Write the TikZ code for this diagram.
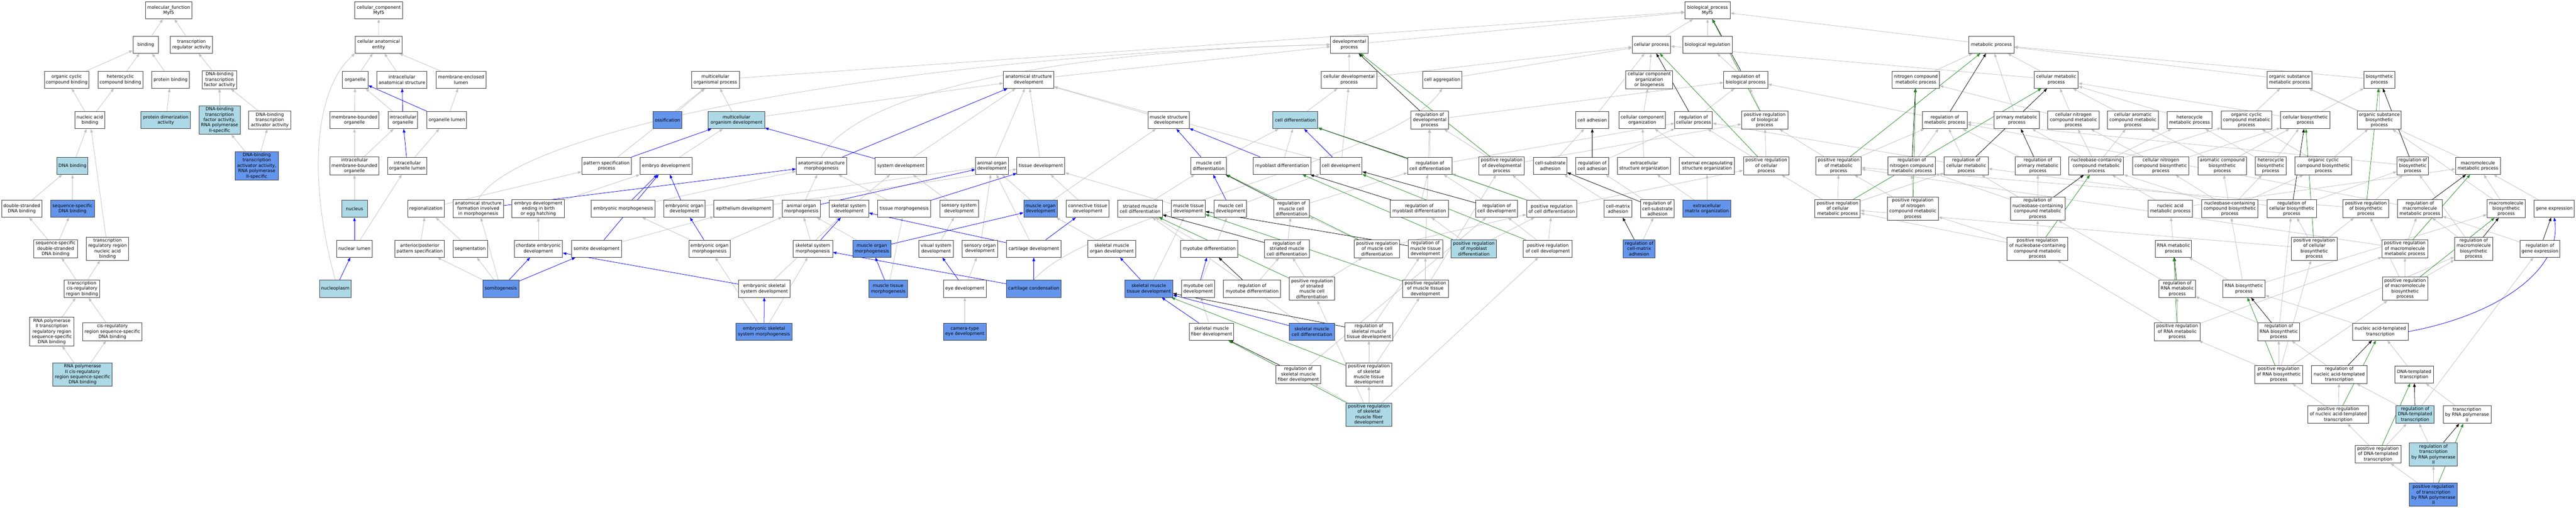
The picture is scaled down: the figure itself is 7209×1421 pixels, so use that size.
\documentclass[tikz,border=0pt]{standalone}
\usepackage{fontspec}
\setmainfont{DejaVu Sans}
\usetikzlibrary{arrows.meta}
\pgfdeclarelayer{back}
\pgfdeclarelayer{bg}
\pgfsetlayers{back,bg,main}
\definecolor{lblue}{RGB}{173,216,230}
\definecolor{cblue}{RGB}{100,149,237}
\definecolor{egray}{RGB}{192,192,192}
\definecolor{fgreen}{RGB}{34,139,34}
\definecolor{bord}{RGB}{60,60,60}
\newcommand\gn[7]{\node[#6,minimum width={(#3-#2)*1pt},minimum height={#5*1pt}] (#1) at ({(#2+#3)/2},-#4) {#7};}
\begin{document}
\begin{tikzpicture}[x=1pt,y=1pt,
 box/.style={draw=bord,line width=1.4pt,rectangle,align=center,inner xsep=1.5pt,inner ysep=1pt,text=black,font=\fontsize{12.5}{15}\selectfont},
 nw/.style={box,fill=white}, nlb/.style={box,fill=lblue}, ncb/.style={box,fill=cblue},
 edgeline/.style={line width=1.1pt,-{Triangle[length=10pt,width=7.5pt]}},
 eg/.style={edgeline,draw=egray}, eb/.style={edgeline,draw=blue}, ek/.style={edgeline,draw=black}, egr/.style={edgeline,draw=fgreen}]
\useasboundingbox (0,0) rectangle (7209,-1421);
\begin{pgfonlayer}{back}\fill[white] (0,0) rectangle (7209,-1421);\end{pgfonlayer}
% Row A
\gn{mf}{407}{537}{29}{48}{nw}{molecular\_function\\Myf5}
\gn{cc}{993}{1127}{29}{48}{nw}{cellular\_component\\Myf5}
\gn{bp}{4715}{4842}{29}{48}{nw}{biological\_process\\Myf5}
% Row B
\gn{binding}{372}{444}{125}{48}{nw}{binding}
\gn{tra}{477}{595}{125}{48}{nw}{transcription\\regulator activity}
\gn{cae}{994}{1125}{125}{48}{nw}{cellular anatomical\\entity}
\gn{devp}{3724}{3828}{125}{48}{nw}{developmental\\process}
\gn{cp}{4568}{4675}{125}{48}{nw}{cellular process}
\gn{breg}{4709}{4848}{125}{48}{nw}{biological regulation}
\gn{mp}{5510}{5636}{125}{48}{nw}{metabolic process}
% Row C
\gn{occb}{124}{249}{223}{48}{nw}{organic cyclic\\compound binding}
\gn{hcb}{274}{400}{223}{48}{nw}{heterocyclic\\compound binding}
\gn{pb}{425}{530}{223}{48}{nw}{protein binding}
\gn{dbtf}{566}{663}{223}{50}{nw}{DNA-binding\\transcription\\factor activity}
\gn{org}{958}{1030}{223}{48}{nw}{organelle}
\gn{ias}{1055}{1195}{223}{48}{nw}{intracellular\\anatomical structure}
\gn{mel}{1221}{1360}{223}{48}{nw}{membrane-enclosed\\lumen}
\gn{mop}{1935}{2069}{223}{48}{nw}{multicellular\\organismal process}
\gn{asd}{2808}{2949}{223}{48}{nw}{anatomical structure\\development}
\gn{cdp}{3698}{3853}{223}{48}{nw}{cellular developmental\\process}
\gn{cagg}{3981}{4091}{223}{48}{nw}{cell aggregation}
\gn{ccob}{4550}{4681}{223}{50}{nw}{cellular component\\organization\\or biogenesis}
\gn{rbp}{4824}{4947}{223}{48}{nw}{regulation of\\biological process}
\gn{ncmp}{5295}{5428}{223}{48}{nw}{nitrogen compound\\metabolic process}
\gn{cmp}{5693}{5816}{223}{48}{nw}{cellular metabolic\\process}
\gn{osmp}{6344}{6470}{223}{48}{nw}{organic substance\\metabolic process}
\gn{bsp}{6616}{6702}{223}{48}{nw}{biosynthetic\\process}
% Row D
\gn{nab}{210}{293}{336}{48}{nw}{nucleic acid\\binding}
\gn{pda}{395}{533}{336}{48}{nlb}{protein dimerization\\activity}
\gn{dbtf2}{557}{672}{336}{80}{nlb}{DNA-binding\\transcription\\factor activity,\\RNA polymerase\\II-specific}
\gn{dbta}{696}{814}{336}{50}{nw}{DNA-binding\\transcription\\activator activity}
\gn{mbo}{923}{1061}{336}{48}{nw}{membrane-bounded\\organelle}
\gn{io}{1086}{1169}{336}{48}{nw}{intracellular\\organelle}
\gn{ol}{1195}{1306}{336}{48}{nw}{organelle lumen}
\gn{oss}{1828}{1908}{336}{48}{ncb}{ossification}
\gn{mod}{1982}{2140}{336}{48}{nlb}{multicellular\\organism development}
\gn{msd}{3213}{3328}{336}{48}{nw}{muscle structure\\development}
\gn{cdiff}{3562}{3688}{336}{48}{nlb}{cell differentiation}
\gn{rdp}{3949}{4053}{336}{50}{nw}{regulation of\\developmental\\process}
\gn{cadh}{4410}{4502}{336}{48}{nw}{cell adhesion}
\gn{cco}{4531}{4661}{336}{48}{nw}{cellular component\\organization}
\gn{rcp}{4687}{4792}{336}{48}{nw}{regulation of\\cellular process}
\gn{prbp}{4874}{5003}{336}{50}{nw}{positive regulation\\of biological\\process}
\gn{rmp}{5380}{5505}{336}{48}{nw}{regulation of\\metabolic process}
\gn{pmp}{5581}{5707}{336}{48}{nw}{primary metabolic\\process}
\gn{cncmp}{5731}{5874}{336}{50}{nw}{cellular nitrogen\\compound metabolic\\process}
\gn{cacmp}{5898}{6040}{336}{50}{nw}{cellular aromatic\\compound metabolic\\process}
\gn{hmp}{6065}{6190}{336}{48}{nw}{heterocycle\\metabolic process}
\gn{occmp}{6216}{6358}{336}{50}{nw}{organic cyclic\\compound metabolic\\process}
\gn{cbp}{6382}{6521}{336}{48}{nw}{cellular biosynthetic\\process}
\gn{osbp}{6597}{6720}{336}{50}{nw}{organic substance\\biosynthetic\\process}
% Row E
\gn{dnab}{160}{246}{464}{48}{nlb}{DNA binding}
\gn{dbta2}{658}{779}{464}{80}{ncb}{DNA-binding\\transcription\\activator activity,\\RNA polymerase\\II-specific}
\gn{imbo}{923}{1061}{464}{50}{nw}{intracellular\\membrane-bounded\\organelle}
\gn{iol}{1085}{1195}{464}{48}{nw}{intracellular\\organelle lumen}
\gn{psp}{1628}{1767}{464}{48}{nw}{pattern specification\\process}
\gn{ed}{1791}{1937}{464}{48}{nw}{embryo development}
\gn{asm}{2228}{2369}{464}{48}{nw}{anatomical structure\\morphogenesis}
\gn{sysd}{2449}{2593}{464}{48}{nw}{system development}
\gn{aod}{2730}{2822}{464}{48}{nw}{animal organ\\development}
\gn{td}{2846}{2980}{464}{48}{nw}{tissue development}
\gn{mcd}{3333}{3432}{464}{48}{nw}{muscle cell\\differentiation}
\gn{mybd}{3507}{3669}{464}{48}{nw}{myoblast differentiation}
\gn{cdev}{3694}{3812}{464}{48}{nw}{cell development}
\gn{rcd}{3939}{4064}{464}{48}{nw}{regulation of\\cell differentiation}
\gn{prdp}{4139}{4266}{464}{50}{nw}{positive regulation\\of developmental\\process}
\gn{csa}{4292}{4385}{464}{48}{nw}{cell-substrate\\adhesion}
\gn{rca}{4410}{4502}{464}{48}{nw}{regulation of\\cell adhesion}
\gn{eso}{4527}{4675}{464}{48}{nw}{extracellular\\structure organization}
\gn{eeso}{4700}{4854}{464}{48}{nw}{external encapsulating\\structure organization}
\gn{prcp}{4879}{5007}{464}{50}{nw}{positive regulation\\of cellular\\process}
\gn{prmp}{5082}{5209}{464}{50}{nw}{positive regulation\\of metabolic\\process}
\gn{rncmp}{5284}{5416}{464}{50}{nw}{regulation of\\nitrogen compound\\metabolic process}
\gn{rcmp}{5441}{5564}{464}{50}{nw}{regulation of\\cellular metabolic\\process}
\gn{rpmp}{5640}{5766}{464}{50}{nw}{regulation of\\primary metabolic\\process}
\gn{nbcmp}{5790}{5943}{464}{50}{nw}{nucleobase-containing\\compound metabolic\\process}
\gn{cncbp}{5968}{6126}{464}{50}{nw}{cellular nitrogen\\compound biosynthetic\\process}
\gn{acbp}{6151}{6287}{464}{50}{nw}{aromatic compound\\biosynthetic\\process}
\gn{hbp}{6311}{6398}{464}{50}{nw}{heterocycle\\biosynthetic\\process}
\gn{occbp}{6423}{6581}{464}{50}{nw}{organic cyclic\\compound biosynthetic\\process}
\gn{rbsp}{6708}{6796}{464}{50}{nw}{regulation of\\biosynthetic\\process}
\gn{mmp}{6872}{6997}{464}{48}{nw}{macromolecule\\metabolic process}
% Row F
\gn{dsdb}{5}{117}{584}{48}{nw}{double-stranded\\DNA binding}
\gn{ssdb}{142}{264}{584}{48}{ncb}{sequence-specific\\DNA binding}
\gn{nucleus}{956}{1028}{584}{48}{nlb}{nucleus}
\gn{regz}{1141}{1243}{584}{48}{nw}{regionalization}
\gn{asf}{1268}{1409}{584}{50}{nw}{anatomical structure\\formation involved\\in morphogenesis}
\gn{edb}{1433}{1580}{584}{50}{nw}{embryo development\\ending in birth\\or egg hatching}
\gn{em}{1655}{1833}{584}{48}{nw}{embryonic morphogenesis}
\gn{eod}{1858}{1973}{584}{48}{nw}{embryonic organ\\development}
\gn{epd}{1998}{2164}{584}{48}{nw}{epithelium development}
\gn{aom}{2189}{2296}{584}{48}{nw}{animal organ\\morphogenesis}
\gn{ssd}{2320}{2431}{584}{48}{nw}{skeletal system\\development}
\gn{tm}{2456}{2605}{584}{48}{nw}{tissue morphogenesis}
\gn{sensd}{2630}{2738}{584}{48}{nw}{sensory system\\development}
\gn{mod2}{2865}{2959}{584}{48}{ncb}{muscle organ\\development}
\gn{ctd}{2984}{3104}{584}{48}{nw}{connective tissue\\development}
\gn{smcd}{3128}{3253}{584}{48}{nw}{striated muscle\\cell differentiation}
\gn{mtd}{3278}{3373}{584}{48}{nw}{muscle tissue\\development}
\gn{mcdev}{3398}{3489}{584}{48}{nw}{muscle cell\\development}
\gn{rmcd}{3565}{3664}{584}{50}{nw}{regulation of\\muscle cell\\differentiation}
\gn{rmybd}{3891}{4053}{584}{48}{nw}{regulation of\\myoblast differentiation}
\gn{rcdev}{4130}{4247}{584}{48}{nw}{regulation of\\cell development}
\gn{prcd}{4272}{4413}{584}{48}{nw}{positive regulation\\of cell differentiation}
\gn{cma}{4489}{4567}{584}{48}{nw}{cell-matrix\\adhesion}
\gn{rcsa}{4592}{4685}{584}{50}{nw}{regulation of\\cell-substrate\\adhesion}
\gn{ecmo}{4710}{4844}{584}{48}{ncb}{extracellular\\matrix organization}
\gn{prcmp}{5079}{5206}{584}{50}{nw}{positive regulation\\of cellular\\metabolic process}
\gn{prncmp}{5282}{5424}{584}{65}{nw}{positive regulation\\of nitrogen\\compound metabolic\\process}
\gn{rnbcmp}{5626}{5779}{584}{65}{nw}{regulation of\\nucleobase-containing\\compound metabolic\\process}
\gn{namp}{6011}{6136}{584}{48}{nw}{nucleic acid\\metabolic process}
\gn{nbcbp}{6161}{6319}{584}{50}{nw}{nucleobase-containing\\compound biosynthetic\\process}
\gn{rcbp}{6344}{6483}{584}{50}{nw}{regulation of\\cellular biosynthetic\\process}
\gn{prbsp}{6557}{6685}{584}{50}{nw}{positive regulation\\of biosynthetic\\process}
\gn{rmmp}{6709}{6835}{584}{50}{nw}{regulation of\\macromolecule\\metabolic process}
\gn{mbp}{6960}{7067}{584}{50}{nw}{macromolecule\\biosynthetic\\process}
\gn{gexp}{7092}{7204}{584}{48}{nw}{gene expression}
% Row G
\gn{ssdsdb}{94}{217}{696}{50}{nw}{sequence-specific\\double-stranded\\DNA binding}
\gn{trrnab}{242}{360}{696}{65}{nw}{transcription\\regulatory region\\nucleic acid\\binding}
\gn{nl}{942}{1042}{696}{48}{nw}{nuclear lumen}
\gn{aps}{1105}{1244}{696}{48}{nw}{anterior/posterior\\pattern specification}
\gn{seg}{1268}{1364}{696}{48}{nw}{segmentation}
\gn{ced}{1439}{1574}{696}{48}{nw}{chordate embryonic\\development}
\gn{somd}{1599}{1740}{696}{48}{nw}{somite development}
\gn{eom}{1928}{2043}{696}{48}{nw}{embryonic organ\\morphogenesis}
\gn{ssm}{2219}{2330}{696}{48}{nw}{skeletal system\\morphogenesis}
\gn{mom}{2387}{2493}{696}{48}{ncb}{muscle organ\\morphogenesis}
\gn{vsd}{2571}{2668}{696}{48}{nw}{visual system\\development}
\gn{sod}{2693}{2792}{696}{48}{nw}{sensory organ\\development}
\gn{cartd}{2817}{2969}{696}{48}{nw}{cartilage development}
\gn{smod}{3045}{3178}{696}{48}{nw}{skeletal muscle\\organ development}
\gn{mytd}{3304}{3464}{696}{48}{nw}{myotube differentiation}
\gn{rsmcd}{3539}{3664}{696}{50}{nw}{regulation of\\striated muscle\\cell differentiation}
\gn{prmcd}{3790}{3917}{696}{50}{nw}{positive regulation\\of muscle cell\\differentiation}
\gn{rmtd}{3941}{4037}{696}{50}{nw}{regulation of\\muscle tissue\\development}
\gn{prmybd}{4061}{4188}{696}{50}{nlb}{positive regulation\\of myoblast\\differentiation}
\gn{prcdev}{4263}{4400}{696}{48}{nw}{positive regulation\\of cell development}
\gn{rcma}{4543}{4631}{696}{50}{ncb}{regulation of\\cell-matrix\\adhesion}
\gn{prnbcmp}{5617}{5787}{696}{65}{nw}{positive regulation\\of nucleobase-containing\\compound metabolic\\process}
\gn{rnamp}{6032}{6133}{696}{48}{nw}{RNA metabolic\\process}
\gn{prcbp}{6413}{6540}{696}{65}{nw}{positive regulation\\of cellular\\biosynthetic\\process}
\gn{prmmp}{6666}{6794}{696}{50}{nw}{positive regulation\\of macromolecule\\metabolic process}
\gn{rmbp}{6869}{6976}{696}{65}{nw}{regulation of\\macromolecule\\biosynthetic\\process}
\gn{rgexp}{7052}{7164}{696}{48}{nw}{regulation of\\gene expression}
% Row H
\gn{tcrrb}{180}{279}{808}{50}{nw}{transcription\\cis-regulatory\\region binding}
\gn{np}{894}{983}{808}{48}{nlb}{nucleoplasm}
\gn{somg}{1351}{1452}{808}{48}{ncb}{somitogenesis}
\gn{essd}{2067}{2211}{808}{48}{nw}{embryonic skeletal\\system development}
\gn{mtm}{2432}{2539}{808}{48}{ncb}{muscle tissue\\morphogenesis}
\gn{eyed}{2640}{2760}{808}{48}{nw}{eye development}
\gn{cartc}{2816}{2970}{808}{48}{ncb}{cartilage condensation}
\gn{smtd}{3148}{3282}{808}{48}{ncb}{skeletal muscle\\tissue development}
\gn{mytcd}{3307}{3399}{808}{48}{nw}{myotube cell\\development}
\gn{rmytd}{3424}{3584}{808}{48}{nw}{regulation of\\myotube differentiation}
\gn{prsmcd}{3608}{3735}{808}{65}{nw}{positive regulation\\of striated\\muscle cell\\differentiation}
\gn{prmtd}{3925}{4053}{808}{50}{nw}{positive regulation\\of muscle tissue\\development}
\gn{rrnamp}{6042}{6144}{808}{50}{nw}{regulation of\\RNA metabolic\\process}
\gn{rnabp}{6220}{6339}{808}{48}{nw}{RNA biosynthetic\\process}
\gn{prmbp}{6667}{6794}{808}{65}{nw}{positive regulation\\of macromolecule\\biosynthetic\\process}
% Row I
\gn{rp2trr}{83}{207}{928}{80}{nw}{RNA polymerase\\II transcription\\regulatory region\\sequence-specific\\DNA binding}
\gn{crrssdb}{232}{397}{928}{50}{nw}{cis-regulatory\\region sequence-specific\\DNA binding}
\gn{essm}{2059}{2217}{928}{48}{ncb}{embryonic skeletal\\system morphogenesis}
\gn{ctyed}{2640}{2760}{928}{48}{ncb}{camera-type\\eye development}
\gn{smfd}{3328}{3453}{928}{48}{nw}{skeletal muscle\\fiber development}
\gn{smcdiff}{3608}{3735}{928}{48}{ncb}{skeletal muscle\\cell differentiation}
\gn{rsmtd}{3764}{3898}{928}{50}{nw}{regulation of\\skeletal muscle\\tissue development}
\gn{prrnamp}{6029}{6157}{928}{50}{nw}{positive regulation\\of RNA metabolic\\process}
\gn{rrnabp}{6318}{6436}{928}{50}{nw}{regulation of\\RNA biosynthetic\\process}
\gn{natt}{6584}{6739}{928}{48}{nw}{nucleic acid-templated\\transcription}
% Row J
\gn{rp2crr}{148}{314}{1048}{65}{nlb}{RNA polymerase\\II cis-regulatory\\region sequence-specific\\DNA binding}
\gn{rsmfd}{3571}{3696}{1048}{50}{nw}{regulation of\\skeletal muscle\\fiber development}
\gn{prsmtd}{3767}{3895}{1048}{65}{nw}{positive regulation\\of skeletal\\muscle tissue\\development}
\gn{prrnabp}{6310}{6444}{1048}{50}{nw}{positive regulation\\of RNA biosynthetic\\process}
\gn{rnatt}{6469}{6624}{1048}{50}{nw}{regulation of\\nucleic acid-templated\\transcription}
\gn{dtt}{6702}{6810}{1048}{48}{nw}{DNA-templated\\transcription}
% Row K
\gn{prsmfd}{3767}{3895}{1160}{65}{nlb}{positive regulation\\of skeletal\\muscle fiber\\development}
\gn{prnatt}{6458}{6629}{1160}{50}{nw}{positive regulation\\of nucleic acid-templated\\transcription}
\gn{rdtt}{6705}{6812}{1160}{50}{nlb}{regulation of\\DNA-templated\\transcription}
\gn{trp2}{6837}{6971}{1160}{50}{nw}{transcription\\by RNA polymerase\\II}
% Row L, M
\gn{prdtt}{6591}{6719}{1271}{50}{nw}{positive regulation\\of DNA-templated\\transcription}
\gn{rtrp2}{6743}{6877}{1271}{65}{nlb}{regulation of\\transcription\\by RNA polymerase\\II}
\gn{prtrp2}{6743}{6877}{1384}{65}{ncb}{positive regulation\\of transcription\\by RNA polymerase\\II}
\begin{pgfonlayer}{bg}
\foreach \a/\b in {binding/mf, tra/mf, occb/binding, hcb/binding, pb/binding, dbtf/tra, nab/occb, nab/hcb, pda/pb, dbtf2/dbtf, dbta/dbtf, dbta2/dbtf2, dbta2/dbta, dnab/nab, dsdb/dnab, ssdb/dnab, trrnab/nab, ssdsdb/dsdb, ssdsdb/ssdb, tcrrb/ssdsdb, tcrrb/trrnab, rp2trr/tcrrb, crrssdb/tcrrb, rp2crr/rp2trr, rp2crr/crrssdb,
cae/cc, org/cae, ias/cae, mel/cae, mbo/org, io/org, ol/mel, imbo/mbo, imbo/io, iol/ol, nucleus/imbo, nl/iol,
aps/regz, regz/psp, seg/regz, somg/aps, somg/seg, somg/asf, ced/edb, edb/ed, psp/mop, oss/mop, mod/mop, mod/asd, mop/bp, ed/mod, sysd/asd, em/asm, eod/aod, epd/td, aom/asm, ssd/sysd, tm/asm, sensd/sysd, eom/em, eom/aom, somd/epd, ssm/aom, mom/aom, essd/ssd, essm/eom, essm/ssm, mtm/tm, eyed/sod, ctyed/eyed, vsd/sensd, sod/aod, cartd/aod, mod2/aod, mod2/msd, ctd/td, smod/mod2, smcd/mcd, mtd/td, mcdev/cdev, rmcd/rcd, asd/devp, msd/asd, td/asd, aod/asd, cdev/asd, mcd/cdiff, mybd/cdiff, cdiff/cdp, cdev/cdp, cdp/cp, cdp/devp, devp/bp, cagg/cp,
smtd/mtd, mytcd/mcdev, rmytd/rsmcd, smfd/mytcd, prsmfd/rsmfd, prsmfd/prsmtd, prsmfd/prcdev, prsmfd/prsmcd, prsmtd/rsmtd, prsmtd/prmtd, rsmfd/rcdev, rsmtd/rmtd, smcdiff/smcd, rsmcd/rmcd, prsmcd/prmcd, prsmcd/rsmcd, prmtd/rmtd, prmtd/prdp, rmtd/rdp, prmcd/rmcd, prmcd/prcd, mytd/smcd, rmybd/rcd, prmybd/rmybd, prmybd/prcd, rcdev/rcd, prcdev/rcdev, prcdev/prcd, prcd/rcd, prcd/prdp, prcd/prcp, rcd/rdp, rcd/rcp, prdp/rdp, prdp/prbp, rdp/rbp,
cp/bp, breg/bp, ccob/cp, cadh/cp, cco/ccob, rcp/rbp, prcp/prbp, prcp/rcp, prbp/rbp, rbp/breg, csa/cadh, rca/rcp, eso/cco, eeso/cco, cma/csa, rcsa/rca, ecmo/eso, ecmo/eeso, rcma/rcsa,
mp/bp, ncmp/mp, cmp/mp, cmp/cp, rmp/rbp, pmp/mp, cncmp/ncmp, cncmp/cmp, cacmp/cmp, osmp/mp, bsp/mp, prmp/rmp, prmp/prbp, rncmp/rmp, rcmp/rmp, rcmp/rcp, rpmp/rmp, nbcmp/cncmp, nbcmp/cacmp, nbcmp/hmp, nbcmp/occmp, nbcmp/pmp, prcmp/prmp, prcmp/rcmp, prcmp/prcp, prncmp/rncmp, prncmp/prmp, rnbcmp/rpmp, rnbcmp/rcmp, rnbcmp/rncmp, prnbcmp/rnbcmp, prnbcmp/prncmp, prnbcmp/prcmp,
hmp/cmp, occmp/osmp, cbp/bsp, cbp/cmp, osbp/bsp, osbp/osmp, cncbp/cbp, cncbp/cncmp, acbp/cacmp, acbp/cbp, hbp/hmp, hbp/cbp, occbp/occmp, occbp/osbp, rbsp/rmp, mmp/osmp, namp/nbcmp, namp/mmp, nbcbp/cncbp, nbcbp/acbp, nbcbp/hbp, nbcbp/occbp, nbcbp/nbcmp, rcbp/rbsp, rcbp/rcmp, prbsp/rbsp, prbsp/prmp, rmmp/rmp, mbp/mmp, mbp/osbp, gexp/mmp, rnamp/namp, prcbp/rcbp, prcbp/prbsp, prcbp/prcmp, prmmp/rmmp, prmmp/prmp, rmbp/rmmp, rmbp/rbsp, rgexp/rmmp,
rrnamp/rnbcmp, rnabp/rnamp, rnabp/nbcbp, rnabp/mbp, prrnamp/rrnamp, prrnamp/prnbcmp, prrnamp/prmmp, rrnabp/rrnamp, rrnabp/rcbp, rrnabp/rmbp, natt/rnabp, prrnabp/rrnabp, prrnabp/prrnamp, prrnabp/prmbp, prrnabp/prcbp, rnatt/rrnabp, dtt/natt, prnatt/rnatt, prnatt/prrnabp, rdtt/rnatt, rdtt/rgexp, trp2/dtt, prdtt/rdtt, prdtt/prnatt, rtrp2/rdtt, prtrp2/rtrp2, prtrp2/prdtt, prmbp/prmmp, prmbp/rmbp, prmbp/prbsp}
  \draw[eg] (\a) -- (\b);
\draw[eg] (np.north) .. controls (860,-500) and (880,-250) .. (cae.south west);
\draw[eg] (asf.north) .. controls (1450,-350) and (2600,-150) .. (devp.west);
\draw[eg] (asm.north) .. controls (2400,-250) and (3000,-140) .. (devp.west);
\draw[eg] (cartc.north) .. controls (3050,-600) and (3900,-450) .. (cagg.south);
\foreach \a/\b in {io/ias, ol/org, iol/io, nl/nucleus, np/nl, somg/ced, somg/somd, somd/ed, asf/asm, psp/mod, sysd/mod, em/ed, eod/ed, aom/aod, tm/td, eom/eod, ssm/ssd, mom/mod2, essd/ced, essm/essd, cartc/ssm, mtm/mom, eyed/vsd, cartc/cartd, cartd/ctd, cartd/ssd, mcdev/mcd, asm/asd, mcd/msd, mybd/msd, cdev/cdiff, smtd/smod, mytcd/mytd, smfd/smtd, smcdiff/smtd}
  \draw[eb] (\a) -- (\b);
\draw[eb] (natt.east) .. controls (7000,-880) and (7170,-750) .. (gexp.south);
\foreach \a/\b in {rmcd/mcd, rmytd/mytd, rsmfd/smfd, rsmtd/smtd, rsmcd/smcd, rmtd/mtd, rmybd/mybd, rcdev/cdev, rcd/cdiff, rdp/devp, rcp/cp, rbp/bp, rca/cadh, rcsa/csa, rcma/cma, rmp/mp, rncmp/ncmp, rcmp/cmp, rpmp/pmp, rnbcmp/nbcmp, rbsp/bsp, rcbp/cbp, rmmp/mmp, rmbp/mbp, rgexp/gexp, rrnamp/rnamp, rrnabp/rnabp, rnatt/natt, rdtt/dtt, rtrp2/trp2}
  \draw[ek] (\a) -- (\b);
\foreach \a/\b in {prsmfd/smfd, prsmtd/smtd, prsmcd/smcd, prmtd/mtd, prmcd/mcd, prmybd/mybd, prcdev/cdev, prcd/cdiff, prdp/devp, prcp/cp, prbp/bp, prmp/mp, prcmp/cmp, prncmp/ncmp, prnbcmp/nbcmp, prbsp/bsp, prcbp/cbp, prmmp/mmp, prmbp/mbp, prrnamp/rnamp, prrnabp/rnabp, prnatt/natt, prdtt/dtt, prtrp2/trp2}
  \draw[egr] (\a) -- (\b);
\end{pgfonlayer}
\end{tikzpicture}
\end{document}
